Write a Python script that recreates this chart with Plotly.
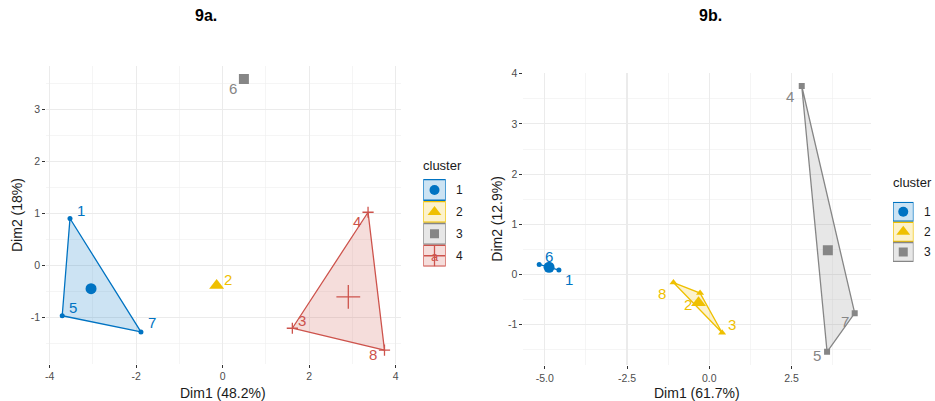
import plotly.graph_objects as go

# ---------------- data ----------------
labels = ["1", "2", "3", "4", "5", "6", "7", "8"]

# Panel 9a
a_dim1 = [-3.53, -0.14, 1.61, 3.36, -3.71, 0.49, -1.89, 3.74]
a_dim2 = [0.90, -0.39, -1.21, 1.02, -0.97, 3.58, -1.28, -1.63]
a_cluster = [1, 2, 4, 4, 1, 3, 1, 4]

# Panel 9b
b_dim1 = [-4.57, -0.28, 0.39, 2.81, 3.58, -5.17, 4.42, -1.09]
b_dim2 = [0.09, -0.37, -1.16, 3.755, -1.54, 0.20, -0.77, -0.16]
b_cluster = [1, 2, 2, 3, 3, 1, 3, 2]

cluster_names = ["1", "2", "3", "4"]
panel_titles = ["9a.", "9b."]
a_titles = ("Dim1 (48.2%)", "Dim2 (18%)")
b_titles = ("Dim1 (61.7%)", "Dim2 (12.9%)")

a_xticks = [-4, -2, 0, 2, 4]
a_yticks = [-1, 0, 1, 2, 3]
b_xticks = [-5.0, -2.5, 0.0, 2.5]
b_yticks = [-1, 0, 1, 2, 3, 4]
a_xminor = [-3, -1, 1, 3]
a_yminor = [-1.5, -0.5, 0.5, 1.5, 2.5, 3.5]
b_xminor = [-3.75, -1.25, 1.25, 3.75]
b_yminor = [-1.5, -0.5, 0.5, 1.5, 2.5, 3.5]

# ---------------- style ----------------
W, H = 935, 401
FONT = "Liberation Sans, Arial, Helvetica, sans-serif"
colors = ["#0073C2", "#EFC000", "#868686", "#CD534C"]
fills = ["rgba(0,115,194,0.2)", "rgba(239,192,0,0.2)",
         "rgba(134,134,134,0.2)", "rgba(205,83,76,0.2)"]
symbols = ["circle", "triangle-up", "square", "cross-thin"]
pt_size = [5, 7, 6, 8]
ctr_size = [11, 13, 10, 17]
leg_size = [10, 12, 9, 15]

# label offsets in pixels (xshift, yshift)
a_off = [(11, 8), (11, 6), (10, 8), (-11, -9), (11, 8), (-11, -9), (11, 9), (-11, -4)]
b_off = [(10, -9), (-12, -11), (10, 8), (-12, -10), (-10, -4), (10, 8), (-10, -8), (-11, -11)]


def px_x(p):
    return p / W


def px_y(p):
    return 1 - p / H


def hull(pts):
    pts = sorted(set(pts))
    if len(pts) <= 2:
        return pts

    def cross(o, a, b):
        return (a[0] - o[0]) * (b[1] - o[1]) - (a[1] - o[1]) * (b[0] - o[0])
    lower, upper = [], []
    for p in pts:
        while len(lower) >= 2 and cross(lower[-2], lower[-1], p) <= 0:
            lower.pop()
        lower.append(p)
    for p in reversed(pts):
        while len(upper) >= 2 and cross(upper[-2], upper[-1], p) <= 0:
            upper.pop()
        upper.append(p)
    return lower[:-1] + upper[:-1]


fig = go.Figure()
annotations = []


def add_panel(xs, ys, cl, offs, xa, ya):
    for c in sorted(set(cl)):
        k = c - 1
        px = [x for x, g in zip(xs, cl) if g == c]
        py = [y for y, g in zip(ys, cl) if g == c]
        h = hull(list(zip(px, py)))
        if len(h) >= 2:
            hx = [p[0] for p in h] + [h[0][0]]
            hy = [p[1] for p in h] + [h[0][1]]
            fig.add_trace(go.Scatter(x=hx, y=hy, mode="lines", fill="toself",
                                     fillcolor=fills[k],
                                     line=dict(color=colors[k], width=1.3),
                                     xaxis=xa, yaxis=ya, showlegend=False,
                                     hoverinfo="skip"))
        mk = dict(symbol=symbols[k], size=pt_size[k], color=colors[k],
                  line=dict(color=colors[k], width=1.3 if k == 3 else 0))
        fig.add_trace(go.Scatter(x=px, y=py, mode="markers", marker=mk,
                                 xaxis=xa, yaxis=ya, showlegend=False))
        cx = sum(px) / len(px)
        cy = sum(py) / len(py)
        mk2 = dict(symbol=symbols[k], size=ctr_size[k], color=colors[k],
                   line=dict(color=colors[k], width=1.3 if k == 3 else 0))
        fig.add_trace(go.Scatter(x=[cx], y=[cy], mode="markers", marker=mk2,
                                 xaxis=xa, yaxis=ya, showlegend=False))
    for lab, x, y, c, (dx, dy) in zip(labels, xs, ys, cl, offs):
        annotations.append(dict(x=x, y=y, xref=xa, yref=ya, text=lab,
                                showarrow=False, xshift=dx, yshift=dy,
                                xanchor="center", yanchor="middle",
                                font=dict(family=FONT, size=15, color=colors[c - 1])))


add_panel(a_dim1, a_dim2, a_cluster, a_off, "x", "y")
add_panel(b_dim1, b_dim2, b_cluster, b_off, "x2", "y2")


def axis(domain, rng, ticks, minor, dec, anchor):
    return dict(domain=domain, range=rng, tickmode="array", tickvals=ticks,
                ticktext=[f"{t:.{dec}f}" for t in ticks], anchor=anchor,
                showgrid=True, gridcolor="#EBEBEB", gridwidth=1.1,
                zeroline=False, showline=False, ticks="outside", ticklen=3,
                tickcolor="#333333", tickwidth=1, automargin=False,
                tickfont=dict(family=FONT, size=10.5, color="#4D4D4D"),
                minor=dict(tickmode="array", tickvals=minor, showgrid=True,
                           gridcolor="#EFEFEF", gridwidth=0.6, ticks=""),
                fixedrange=True)


def hidden(domain, rng, anchor):
    return dict(domain=domain, range=rng, visible=False, fixedrange=True, anchor=anchor)


layout = dict(
    width=W, height=H,
    margin=dict(l=0, r=0, t=0, b=0, pad=0, autoexpand=False),
    paper_bgcolor="white", plot_bgcolor="white", showlegend=False,
    xaxis=axis([px_x(46.2), px_x(400.5)], [-4.08, 4.11], a_xticks, a_xminor, 0, "y"),
    yaxis=axis([px_y(363.6), px_y(65.6)], [-1.89, 3.84], a_yticks, a_yminor, 0, "x"),
    xaxis2=axis([px_x(523.4), px_x(870.5)], [-5.65, 4.90], b_xticks, b_xminor, 1, "y2"),
    yaxis2=axis([px_y(364.9), px_y(72.7)], [-1.80, 4.02], b_yticks, b_yminor, 0, "x2"),
    # legend key axes
    xaxis3=hidden([px_x(423.3), px_x(445.7)], [0, 1], "y3"),
    yaxis3=hidden([px_y(266.7), px_y(179)], [4, 0], "x3"),
    xaxis4=hidden([px_x(893), px_x(913.5)], [0, 1], "y4"),
    yaxis4=hidden([px_y(262), px_y(201.7)], [3, 0], "x4"),
)

shapes = []


def add_legend(n, xa, ya, text_x, title_x, title_y):
    for i in range(n):
        shapes.append(dict(type="rect", xref=xa, yref=ya, x0=0, x1=1,
                           y0=i + 0.03, y1=i + 0.97, fillcolor=fills[i],
                           line=dict(color=colors[i], width=1.3), layer="below"))
        fig.add_trace(go.Scatter(x=[0.5], y=[i + 0.5], mode="markers",
                                 marker=dict(symbol=symbols[i], size=leg_size[i],
                                             color=colors[i],
                                             line=dict(color=colors[i], width=1.3 if i == 3 else 0)),
                                 xaxis=xa, yaxis=ya, showlegend=False, hoverinfo="skip"))
        annotations.append(dict(x=px_x(text_x), y=i + 0.5, xref="paper", yref=ya,
                                text=cluster_names[i], showarrow=False,
                                xanchor="left", yanchor="middle",
                                font=dict(family=FONT, size=12, color="#1A1A1A")))
        if i == 3:
            annotations.append(dict(x=0.5, y=i + 0.5, xref=xa, yref=ya, text="a",
                                    showarrow=False, yshift=-1,
                                    xanchor="center", yanchor="middle",
                                    font=dict(family=FONT, size=13, color=colors[i])))
    annotations.append(dict(x=px_x(title_x), y=px_y(title_y), xref="paper", yref="paper",
                            text="cluster", showarrow=False,
                            xanchor="left", yanchor="middle",
                            font=dict(family=FONT, size=13, color="#1A1A1A")))


add_legend(4, "x3", "y3", 453.5, 421, 165.7)
add_legend(3, "x4", "y4", 921.5, 891, 182.7)

# axis titles
for txt, x, y, ang in [(a_titles[0], 223, 392.7, 0), (a_titles[1], 17, 215, -90),
                       (b_titles[0], 697, 392.7, 0), (b_titles[1], 496.7, 219, -90)]:
    annotations.append(dict(x=px_x(x), y=px_y(y), xref="paper", yref="paper", text=txt,
                            showarrow=False, textangle=ang,
                            xanchor="center", yanchor="middle",
                            font=dict(family=FONT, size=14, color="#1A1A1A")))

# panel titles
for txt, x in zip(panel_titles, [206, 710]):
    annotations.append(dict(x=px_x(x), y=px_y(15.5), xref="paper", yref="paper",
                            text="<b>" + txt + "</b>", showarrow=False,
                            xanchor="center", yanchor="middle", borderpad=0,
                            font=dict(family=FONT, size=16, color="black")))

layout["annotations"] = annotations
layout["shapes"] = shapes
fig.update_layout(**layout)
fig.write_html("out.html",
               config={"displayModeBar": False, "staticPlot": True},
               post_script="document.body.style.margin='0';"
                           "document.body.style.overflow='hidden';")
